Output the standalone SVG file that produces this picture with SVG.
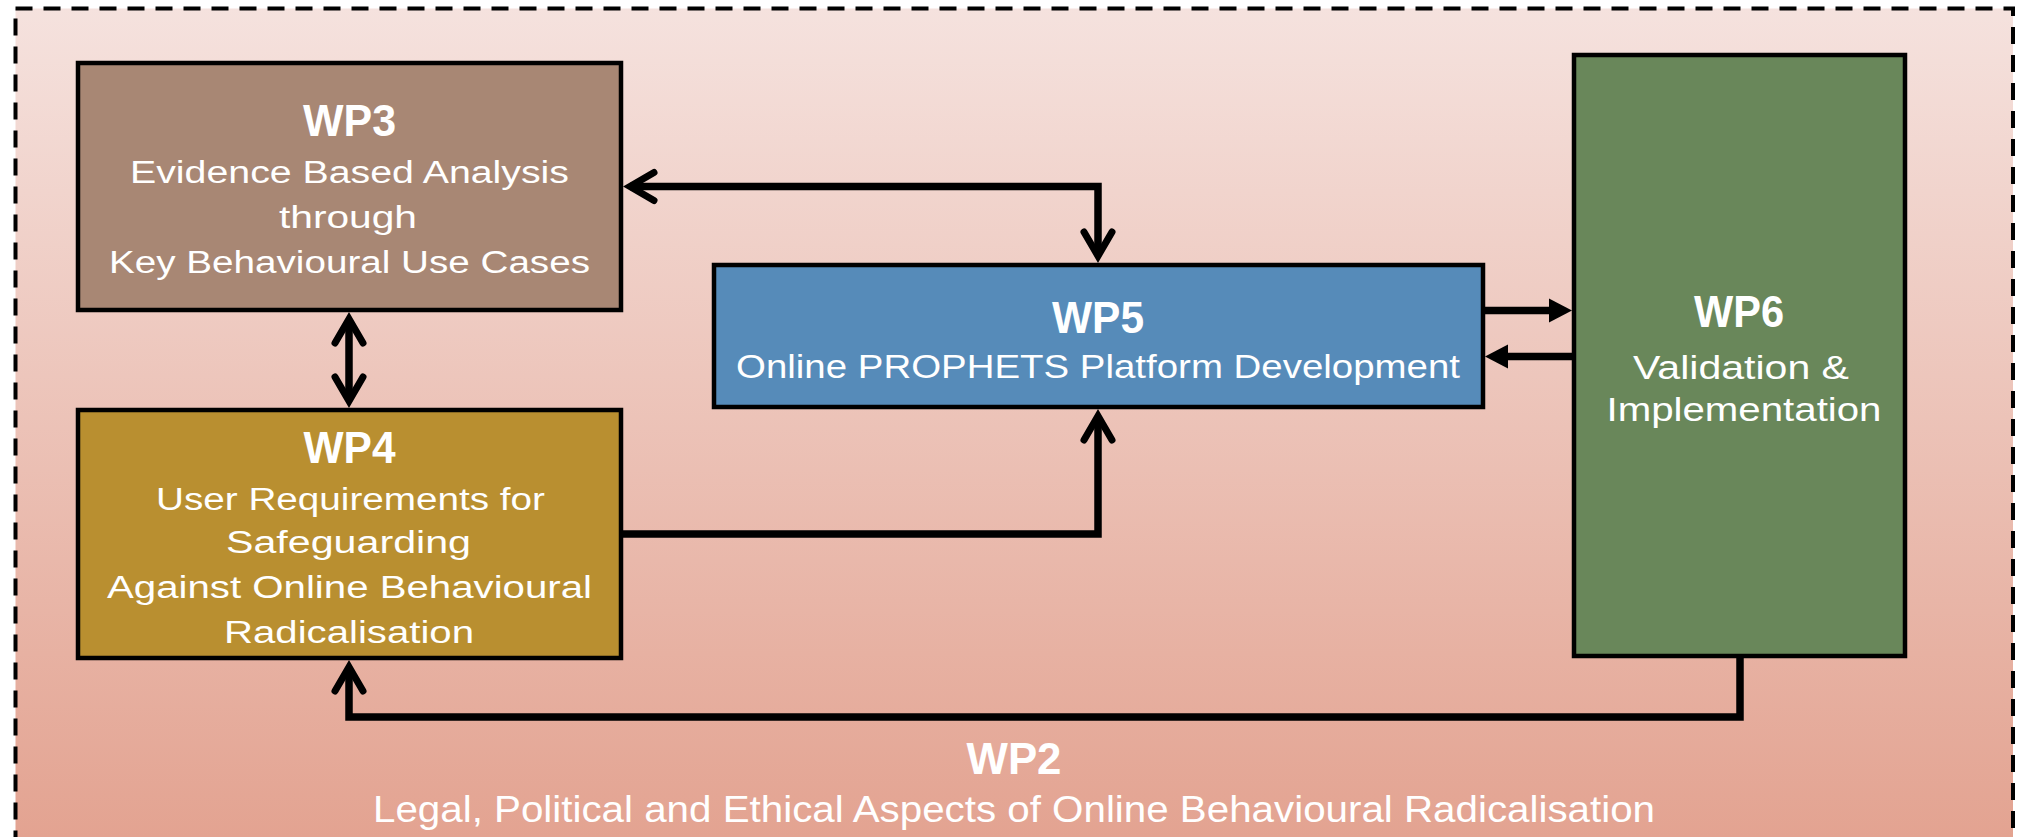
<svg xmlns="http://www.w3.org/2000/svg" width="2026" height="837" viewBox="0 0 2026 837">
<defs>
<linearGradient id="bg" gradientUnits="userSpaceOnUse" x1="0" y1="8" x2="0" y2="837">
<stop offset="0" stop-color="#f5e2de"/>
<stop offset="1" stop-color="#e3a391"/>
</linearGradient>
<marker id="chev" markerUnits="userSpaceOnUse" orient="auto-start-reverse" refX="-7" refY="0" markerWidth="1" markerHeight="1" overflow="visible">
<path d="M-31,-14 L-7,0 L-31,14" fill="none" stroke="#000" stroke-width="7" stroke-linecap="round" stroke-linejoin="miter" stroke-miterlimit="10"/>
</marker>
<marker id="tri" markerUnits="userSpaceOnUse" orient="auto" refX="-18" refY="0" markerWidth="1" markerHeight="1" overflow="visible">
<path d="M-23,-12 L0,0 L-23,12 Z" fill="#000"/>
</marker>
</defs>
<style>
.box{stroke:#000;stroke-width:4.5}
.t{fill:#fff;font-family:"Liberation Sans",Arial,sans-serif;text-anchor:middle}
.h{font-weight:bold;font-size:45px}
.b{font-size:31px}
.b5{font-size:33px}
.b2{font-size:37px}
.c{fill:none;stroke:#000;stroke-width:7.5;stroke-linejoin:miter}
</style>
<rect id="frame" x="15.5" y="8.5" width="1997.5" height="900" fill="url(#bg)" stroke="#000" stroke-width="4" stroke-dasharray="17 11"/>

<g id="connectors">
<path class="c" d="M630,186.5 H1098 V256" marker-start="url(#chev)" marker-end="url(#chev)"/>
<path class="c" d="M349,319 V401" marker-start="url(#chev)" marker-end="url(#chev)"/>
<path class="c" d="M623,534 H1098 V416" marker-end="url(#chev)"/>
<path class="c" d="M1485,310.5 H1554" marker-end="url(#tri)"/>
<path class="c" d="M1572,356.5 H1503" marker-end="url(#tri)"/>
<path class="c" d="M1740,653 V717 H349 V667" marker-end="url(#chev)"/>
</g>

<g id="wp3">
<rect class="box" x="78" y="63" width="543" height="247" fill="#a88774"/>
<text class="t h" x="349.5" y="136" textLength="93" lengthAdjust="spacingAndGlyphs">WP3</text>
<text class="t b" x="349.5" y="183" textLength="439" lengthAdjust="spacingAndGlyphs">Evidence Based Analysis</text>
<text class="t b" x="348" y="228" textLength="138" lengthAdjust="spacingAndGlyphs">through</text>
<text class="t b" x="349.5" y="273" textLength="481" lengthAdjust="spacingAndGlyphs">Key Behavioural Use Cases</text>
</g>

<g id="wp4">
<rect class="box" x="78" y="410" width="543" height="248" fill="#b98f30"/>
<text class="t h" x="349.5" y="463" textLength="92" lengthAdjust="spacingAndGlyphs">WP4</text>
<text class="t b" x="350.5" y="510" textLength="389" lengthAdjust="spacingAndGlyphs">User Requirements for</text>
<text class="t b" x="348.5" y="553" textLength="245" lengthAdjust="spacingAndGlyphs">Safeguarding</text>
<text class="t b" x="349.5" y="598" textLength="485" lengthAdjust="spacingAndGlyphs">Against Online Behavioural</text>
<text class="t b" x="349" y="643" textLength="250" lengthAdjust="spacingAndGlyphs">Radicalisation</text>
</g>

<g id="wp5">
<rect class="box" x="714" y="265" width="769" height="142" fill="#568bb9"/>
<text class="t h" x="1098" y="333" textLength="92" lengthAdjust="spacingAndGlyphs">WP5</text>
<text class="t b5" x="1098" y="378" textLength="724" lengthAdjust="spacingAndGlyphs">Online PROPHETS Platform Development</text>
</g>

<g id="wp6">
<rect class="box" x="1574" y="55" width="331" height="601" fill="#69875a"/>
<text class="t h" x="1739" y="327" textLength="90" lengthAdjust="spacingAndGlyphs">WP6</text>
<text class="t b5" x="1741" y="379" textLength="216" lengthAdjust="spacingAndGlyphs">Validation &amp;</text>
<text class="t b5" x="1744" y="421" textLength="275" lengthAdjust="spacingAndGlyphs">Implementation</text>
</g>

<g id="wp2">
<text class="t h" x="1014" y="774" textLength="95" lengthAdjust="spacingAndGlyphs">WP2</text>
<text class="t b2" x="1014" y="822" textLength="1282" lengthAdjust="spacingAndGlyphs">Legal, Political and Ethical Aspects of Online Behavioural Radicalisation</text>
</g>
</svg>
